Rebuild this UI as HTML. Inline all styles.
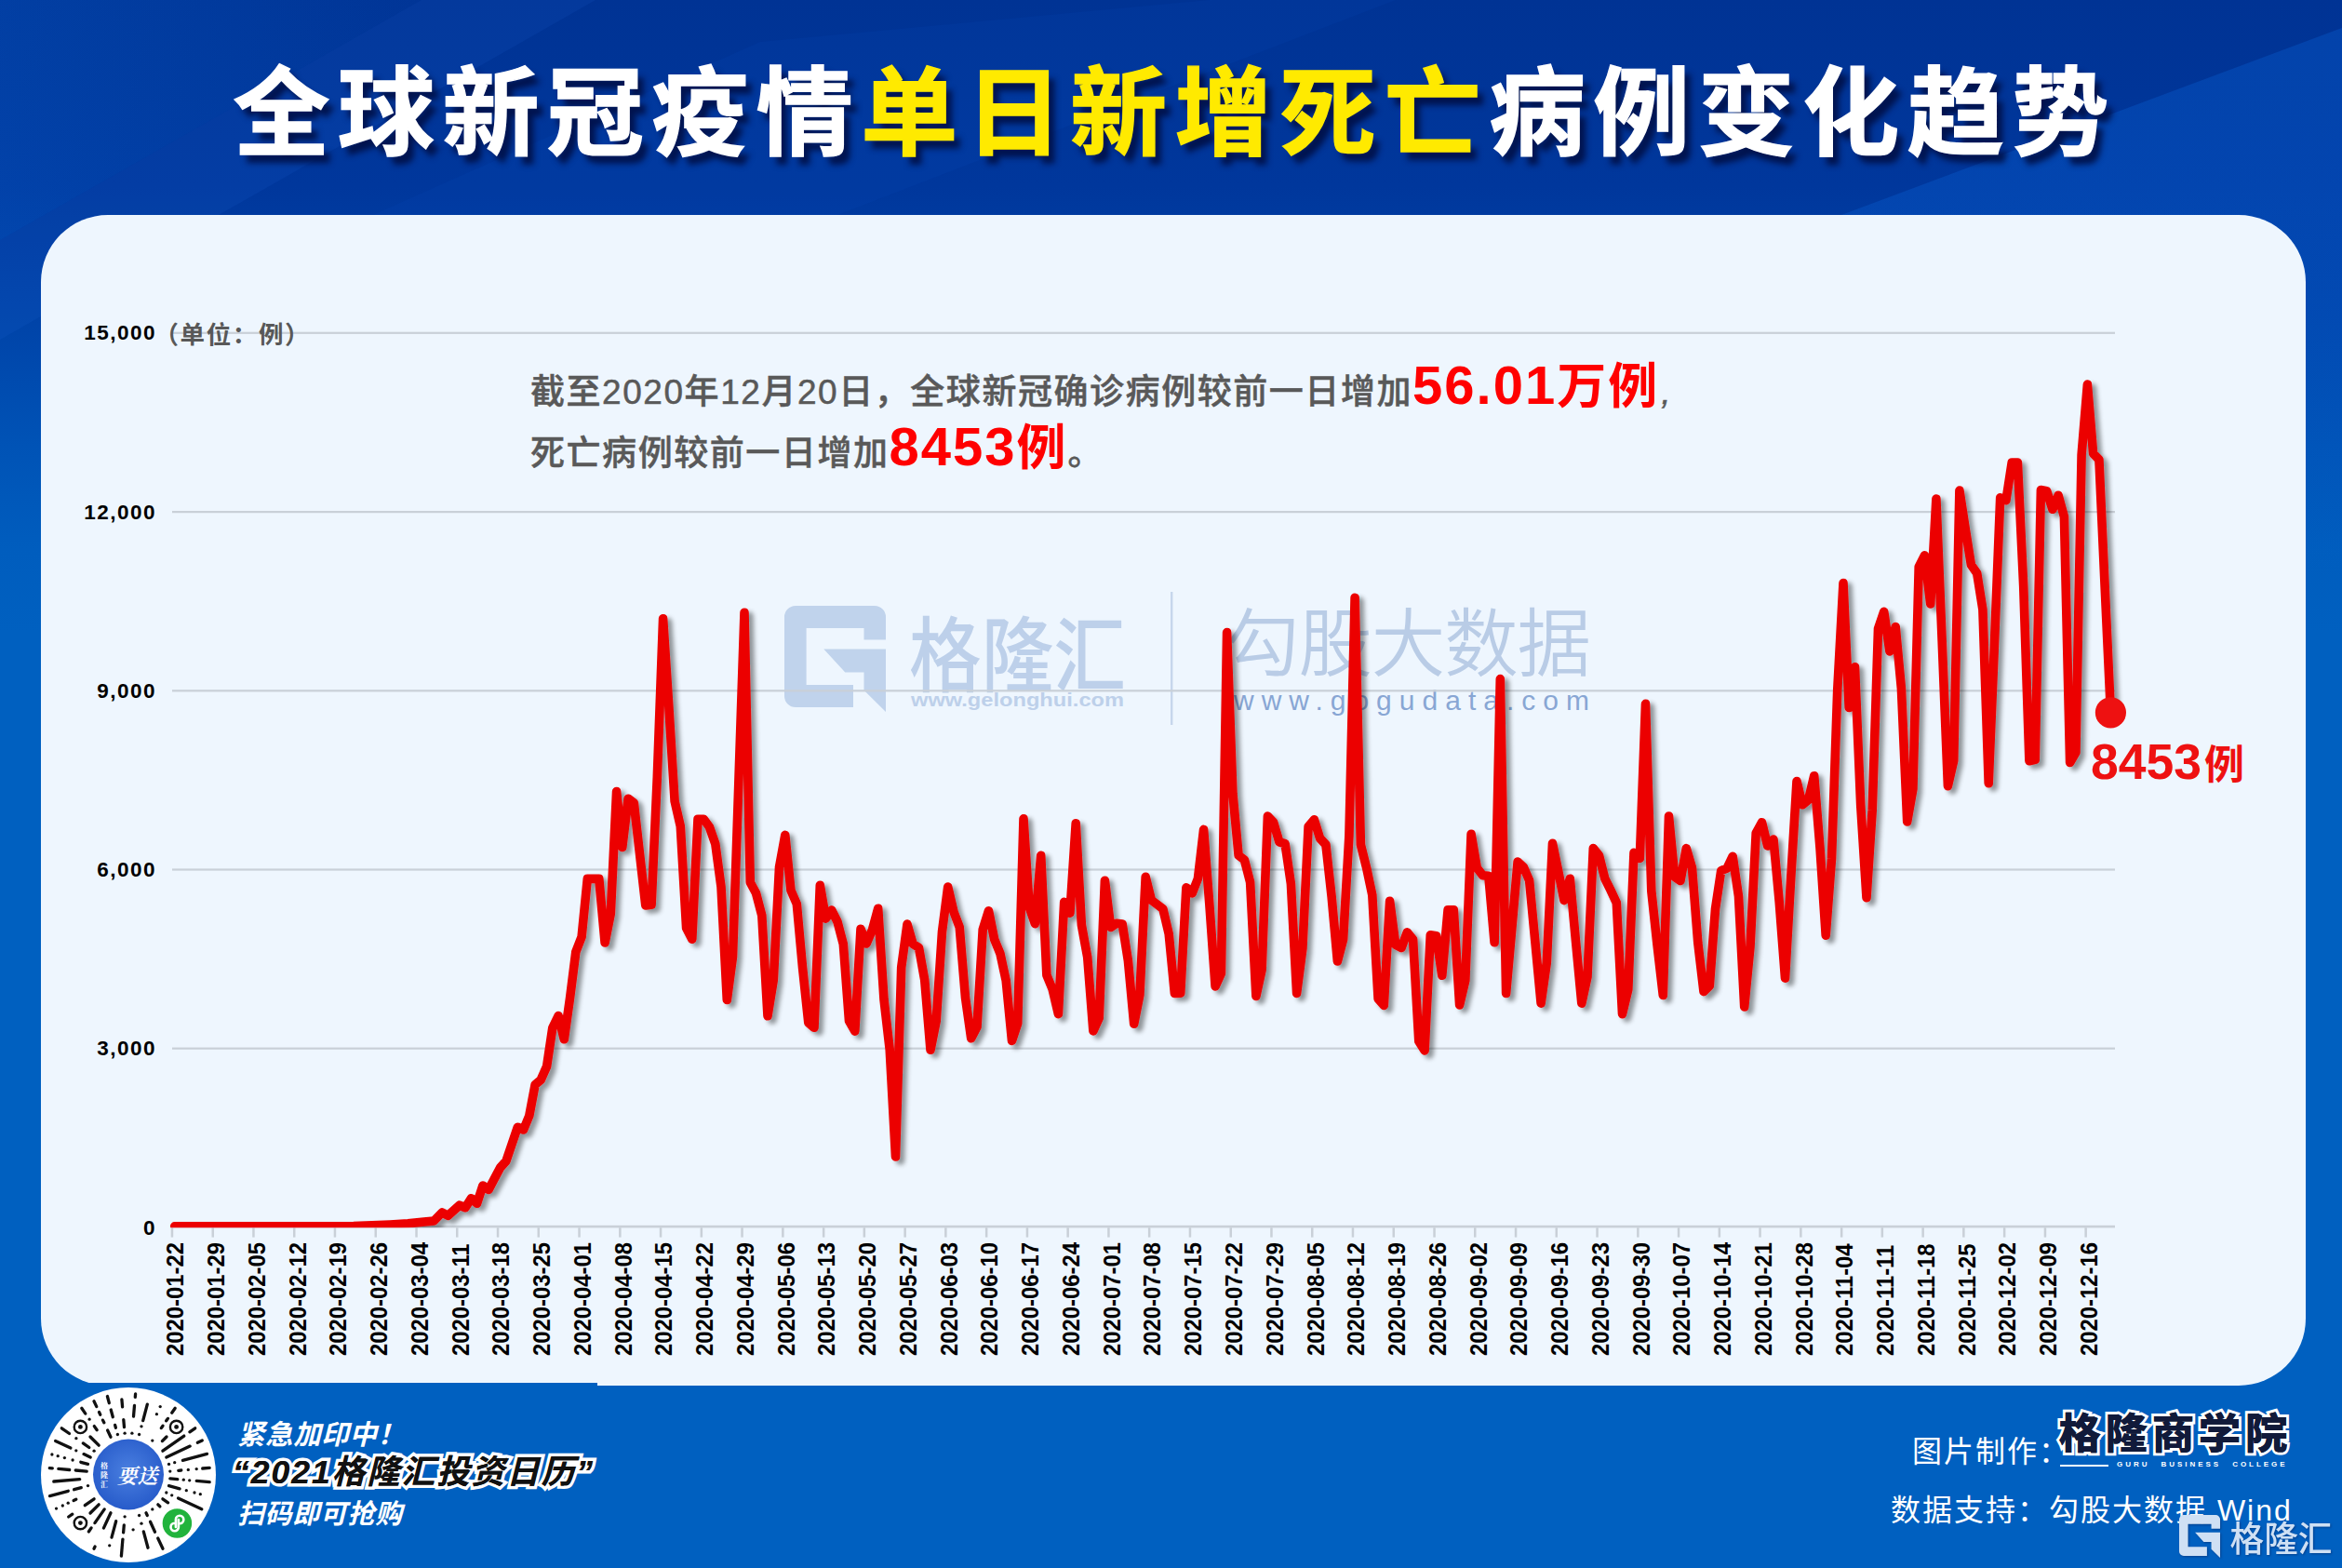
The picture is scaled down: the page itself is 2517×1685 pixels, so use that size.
<!DOCTYPE html>
<html lang="zh-CN"><head><meta charset="utf-8"><title>全球新冠疫情单日新增死亡病例变化趋势</title>
<style>
html,body{margin:0;padding:0}
body{width:2517px;height:1685px;overflow:hidden;position:relative;
 background:linear-gradient(180deg,#003394 0px,#00379c 200px,#0043a8 340px,#0053b6 480px,#005dbe 590px,#0060c0 680px,#0060c0 100%);
 font-family:"Liberation Sans","Noto Sans CJK SC",sans-serif}
.abs{position:absolute;left:0;top:0}
.title{position:absolute;left:0;top:53px;padding-left:250.5px;text-align:left;white-space:nowrap;
 font-family:"Liberation Sans","Noto Sans CJK SC",sans-serif;font-weight:700;font-size:104px;line-height:140px;letter-spacing:8.45px;color:#fff;
 -webkit-text-stroke:1.4px #fff;text-shadow:7px 9px 6px rgba(0,16,72,.92)}
.title b{color:#ffea00;font-weight:700;-webkit-text-stroke:1.4px #ffea00}
.card{position:absolute;left:44px;top:231px;width:2434px;height:1257.5px;border-radius:72px;background:#eef6fe}
.dl{font-family:"Liberation Sans",sans-serif;font-weight:700;font-size:26.5px;fill:#000}
.yl{font-family:"Liberation Sans",sans-serif;font-weight:700;font-size:22.5px;fill:#000;letter-spacing:1.45px}
.unit{position:absolute;left:165.5px;top:342px;font-family:"Liberation Sans","Noto Sans CJK SC",sans-serif;font-weight:700;font-size:26.5px;line-height:36px;letter-spacing:1.6px;color:#585858;white-space:nowrap}
.note{position:absolute;left:570px;top:382px;white-space:nowrap;color:#595959;font-family:"Liberation Sans","Noto Sans CJK SC",sans-serif;font-weight:500;font-size:37px;line-height:66.5px;letter-spacing:2px}
.nt{font-family:"Liberation Sans","Noto Sans CJK SC",sans-serif;font-weight:500;font-size:37px;letter-spacing:1.55px;fill:#595959;stroke:#595959;stroke-width:.5px}
.rd{stroke:none}
.rd{fill:#ff0000;font-weight:700;font-size:53px;letter-spacing:2px}
.dg{font-size:58px}
.endlab{position:absolute;left:2247px;top:784px;color:#ee1111;font-family:"Liberation Sans","Noto Sans CJK SC",sans-serif;font-weight:700;font-size:53.5px;line-height:70px;white-space:nowrap}
.endlab span{font-size:43px;margin-left:3px}
.promo{position:absolute;font-style:italic;font-weight:700;white-space:nowrap;}
.p1{left:255px;top:1521.5px;font-size:29.5px;line-height:40px;color:#fff;letter-spacing:.6px}
.p2{left:250px;top:1558px;font-size:35.5px;line-height:48px;color:#111;letter-spacing:2px;-webkit-text-stroke:7px #fff;paint-order:stroke fill}
.p2b{-webkit-text-stroke:0}
.p3{left:255px;top:1607px;font-size:29px;line-height:40px;color:#fff;letter-spacing:.6px}
.cr{position:absolute;color:#fff;white-space:nowrap;font-size:32px;line-height:44px;letter-spacing:2px;font-weight:400}
.gbc{position:absolute;left:2212.5px;top:1507px;font-weight:900;font-size:45.5px;line-height:70px;letter-spacing:4.6px;color:#111a3a;white-space:nowrap;
 -webkit-text-stroke:6px #fff;paint-order:stroke fill}
.gbc2{-webkit-text-stroke:0;}
.gbce{position:absolute;left:2275px;top:1567.8px;font-size:8px;line-height:12px;letter-spacing:2.95px;font-weight:700;color:#fff;white-space:nowrap;word-spacing:7px}
</style></head><body>
<svg class="abs" width="2517" height="1685" viewBox="0 0 2517 1685">
<defs>
<linearGradient id="gl" x1="0" y1="0" x2="1" y2="0"><stop offset="0" stop-color="#0868d8" stop-opacity=".22"/><stop offset="1" stop-color="#0868d8" stop-opacity="0.04"/></linearGradient>
<linearGradient id="gr" x1="0" y1="0" x2="0" y2="1"><stop offset="0" stop-color="#0a66dc" stop-opacity=".30"/><stop offset=".3" stop-color="#0a66dc" stop-opacity=".30"/><stop offset="1" stop-color="#0a66dc" stop-opacity="0"/></linearGradient>
</defs>
<polygon points="0,0 453,0 0,258" fill="url(#gl)"/>
<polygon points="0,258 453,0 640,0 0,365" fill="#2a7ae8" opacity="0.10"/>
<polygon points="401,231 817,45 1300,0 1500,0 900,231" fill="#0a5ad0" opacity="0.09"/>
<polygon points="1979,231 2517,30 2517,620 2300,620 2300,231" fill="url(#gr)"/>
</svg>
<div class="title">全球新冠疫情<b>单日新增死亡</b>病例变化趋势</div>
<div class="card"></div>
<svg class="abs" width="2517" height="1685" viewBox="0 0 2517 1685">
<path transform="translate(843,651) scale(1.0)" d="M12,0 H97 a12,12 0 0 1 12,12 V36.5 H85.5 V24 H23.6 V85 H74 V109 H12 a12,12 0 0 1 -12,-12 V12 a12,12 0 0 1 12,-12 Z M42.3,46.5 H109 V114 L85.5,90.7 V71.5 H65.3 Z" fill="#c0d3ec" />
<text x="977" y="735.5" font-family="'Liberation Sans','Noto Sans CJK SC',sans-serif" font-weight="500" font-size="88" fill="#bdd0ea" textLength="233" lengthAdjust="spacingAndGlyphs">格隆汇</text>
<text x="979" y="758.5" font-family="'Liberation Sans',sans-serif" font-weight="700" font-size="19.5" fill="#bdd0ea" textLength="229" lengthAdjust="spacingAndGlyphs">www.gelonghui.com</text>
<rect x="1258" y="636" width="2.4" height="143" fill="#c6d6ec"/>
<text x="1317" y="719.5" font-family="'Liberation Sans','Noto Sans CJK SC',sans-serif" font-weight="350" font-size="79.5" fill="#b9cce6" textLength="393" lengthAdjust="spacing">勾股大数据</text>
<text x="1326" y="763" font-family="'Liberation Sans',sans-serif" font-weight="400" font-size="30" fill="#88a6d4" textLength="382" lengthAdjust="spacing">www.gogudata.com</text>
</svg>
<svg class="abs" width="2517" height="1685" viewBox="0 0 2517 1685">
<defs><clipPath id="cp"><rect x="150" y="300" width="2200" height="1019.3"/></clipPath><filter id="ls" x="-5%" y="-5%" width="110%" height="110%"><feGaussianBlur in="SourceAlpha" stdDeviation="2.6"/><feOffset dx="5" dy="4"/><feComponentTransfer><feFuncA type="linear" slope="0.4"/></feComponentTransfer><feMerge><feMergeNode/><feMergeNode in="SourceGraphic"/></feMerge></filter></defs>
<rect x="185" y="356.7" width="2088" height="2.2" fill="#c9d0d8"/>
<rect x="185" y="549.0" width="2088" height="2.2" fill="#c9d0d8"/>
<rect x="185" y="741.2" width="2088" height="2.2" fill="#c9d0d8"/>
<rect x="185" y="933.4" width="2088" height="2.2" fill="#c9d0d8"/>
<rect x="185" y="1125.6" width="2088" height="2.2" fill="#c9d0d8"/>
<rect x="185" y="1316.8" width="2088" height="2.6" fill="#c9d0d8"/>
<rect x="183.7" y="1319.2" width="2.5" height="10.4" fill="#c9d0d8"/>
<text class="dl" transform="translate(197.2,1457) rotate(-90) scale(0.9,1)">2020-01-22</text>
<rect x="227.5" y="1319.2" width="2.5" height="10.4" fill="#c9d0d8"/>
<text class="dl" transform="translate(241.0,1457) rotate(-90) scale(0.9,1)">2020-01-29</text>
<rect x="271.2" y="1319.2" width="2.5" height="10.4" fill="#c9d0d8"/>
<text class="dl" transform="translate(284.7,1457) rotate(-90) scale(0.9,1)">2020-02-05</text>
<rect x="315.0" y="1319.2" width="2.5" height="10.4" fill="#c9d0d8"/>
<text class="dl" transform="translate(328.5,1457) rotate(-90) scale(0.9,1)">2020-02-12</text>
<rect x="358.7" y="1319.2" width="2.5" height="10.4" fill="#c9d0d8"/>
<text class="dl" transform="translate(372.2,1457) rotate(-90) scale(0.9,1)">2020-02-19</text>
<rect x="402.5" y="1319.2" width="2.5" height="10.4" fill="#c9d0d8"/>
<text class="dl" transform="translate(416.0,1457) rotate(-90) scale(0.9,1)">2020-02-26</text>
<rect x="446.3" y="1319.2" width="2.5" height="10.4" fill="#c9d0d8"/>
<text class="dl" transform="translate(459.8,1457) rotate(-90) scale(0.9,1)">2020-03-04</text>
<rect x="490.0" y="1319.2" width="2.5" height="10.4" fill="#c9d0d8"/>
<text class="dl" transform="translate(503.5,1457) rotate(-90) scale(0.9,1)">2020-03-11</text>
<rect x="533.8" y="1319.2" width="2.5" height="10.4" fill="#c9d0d8"/>
<text class="dl" transform="translate(547.3,1457) rotate(-90) scale(0.9,1)">2020-03-18</text>
<rect x="577.5" y="1319.2" width="2.5" height="10.4" fill="#c9d0d8"/>
<text class="dl" transform="translate(591.0,1457) rotate(-90) scale(0.9,1)">2020-03-25</text>
<rect x="621.3" y="1319.2" width="2.5" height="10.4" fill="#c9d0d8"/>
<text class="dl" transform="translate(634.8,1457) rotate(-90) scale(0.9,1)">2020-04-01</text>
<rect x="665.1" y="1319.2" width="2.5" height="10.4" fill="#c9d0d8"/>
<text class="dl" transform="translate(678.6,1457) rotate(-90) scale(0.9,1)">2020-04-08</text>
<rect x="708.8" y="1319.2" width="2.5" height="10.4" fill="#c9d0d8"/>
<text class="dl" transform="translate(722.3,1457) rotate(-90) scale(0.9,1)">2020-04-15</text>
<rect x="752.6" y="1319.2" width="2.5" height="10.4" fill="#c9d0d8"/>
<text class="dl" transform="translate(766.1,1457) rotate(-90) scale(0.9,1)">2020-04-22</text>
<rect x="796.3" y="1319.2" width="2.5" height="10.4" fill="#c9d0d8"/>
<text class="dl" transform="translate(809.8,1457) rotate(-90) scale(0.9,1)">2020-04-29</text>
<rect x="840.1" y="1319.2" width="2.5" height="10.4" fill="#c9d0d8"/>
<text class="dl" transform="translate(853.6,1457) rotate(-90) scale(0.9,1)">2020-05-06</text>
<rect x="883.9" y="1319.2" width="2.5" height="10.4" fill="#c9d0d8"/>
<text class="dl" transform="translate(897.4,1457) rotate(-90) scale(0.9,1)">2020-05-13</text>
<rect x="927.6" y="1319.2" width="2.5" height="10.4" fill="#c9d0d8"/>
<text class="dl" transform="translate(941.1,1457) rotate(-90) scale(0.9,1)">2020-05-20</text>
<rect x="971.4" y="1319.2" width="2.5" height="10.4" fill="#c9d0d8"/>
<text class="dl" transform="translate(984.9,1457) rotate(-90) scale(0.9,1)">2020-05-27</text>
<rect x="1015.1" y="1319.2" width="2.5" height="10.4" fill="#c9d0d8"/>
<text class="dl" transform="translate(1028.6,1457) rotate(-90) scale(0.9,1)">2020-06-03</text>
<rect x="1058.9" y="1319.2" width="2.5" height="10.4" fill="#c9d0d8"/>
<text class="dl" transform="translate(1072.4,1457) rotate(-90) scale(0.9,1)">2020-06-10</text>
<rect x="1102.7" y="1319.2" width="2.5" height="10.4" fill="#c9d0d8"/>
<text class="dl" transform="translate(1116.2,1457) rotate(-90) scale(0.9,1)">2020-06-17</text>
<rect x="1146.4" y="1319.2" width="2.5" height="10.4" fill="#c9d0d8"/>
<text class="dl" transform="translate(1159.9,1457) rotate(-90) scale(0.9,1)">2020-06-24</text>
<rect x="1190.2" y="1319.2" width="2.5" height="10.4" fill="#c9d0d8"/>
<text class="dl" transform="translate(1203.7,1457) rotate(-90) scale(0.9,1)">2020-07-01</text>
<rect x="1233.9" y="1319.2" width="2.5" height="10.4" fill="#c9d0d8"/>
<text class="dl" transform="translate(1247.4,1457) rotate(-90) scale(0.9,1)">2020-07-08</text>
<rect x="1277.7" y="1319.2" width="2.5" height="10.4" fill="#c9d0d8"/>
<text class="dl" transform="translate(1291.2,1457) rotate(-90) scale(0.9,1)">2020-07-15</text>
<rect x="1321.5" y="1319.2" width="2.5" height="10.4" fill="#c9d0d8"/>
<text class="dl" transform="translate(1335.0,1457) rotate(-90) scale(0.9,1)">2020-07-22</text>
<rect x="1365.2" y="1319.2" width="2.5" height="10.4" fill="#c9d0d8"/>
<text class="dl" transform="translate(1378.7,1457) rotate(-90) scale(0.9,1)">2020-07-29</text>
<rect x="1409.0" y="1319.2" width="2.5" height="10.4" fill="#c9d0d8"/>
<text class="dl" transform="translate(1422.5,1457) rotate(-90) scale(0.9,1)">2020-08-05</text>
<rect x="1452.7" y="1319.2" width="2.5" height="10.4" fill="#c9d0d8"/>
<text class="dl" transform="translate(1466.2,1457) rotate(-90) scale(0.9,1)">2020-08-12</text>
<rect x="1496.5" y="1319.2" width="2.5" height="10.4" fill="#c9d0d8"/>
<text class="dl" transform="translate(1510.0,1457) rotate(-90) scale(0.9,1)">2020-08-19</text>
<rect x="1540.3" y="1319.2" width="2.5" height="10.4" fill="#c9d0d8"/>
<text class="dl" transform="translate(1553.8,1457) rotate(-90) scale(0.9,1)">2020-08-26</text>
<rect x="1584.0" y="1319.2" width="2.5" height="10.4" fill="#c9d0d8"/>
<text class="dl" transform="translate(1597.5,1457) rotate(-90) scale(0.9,1)">2020-09-02</text>
<rect x="1627.8" y="1319.2" width="2.5" height="10.4" fill="#c9d0d8"/>
<text class="dl" transform="translate(1641.3,1457) rotate(-90) scale(0.9,1)">2020-09-09</text>
<rect x="1671.5" y="1319.2" width="2.5" height="10.4" fill="#c9d0d8"/>
<text class="dl" transform="translate(1685.0,1457) rotate(-90) scale(0.9,1)">2020-09-16</text>
<rect x="1715.3" y="1319.2" width="2.5" height="10.4" fill="#c9d0d8"/>
<text class="dl" transform="translate(1728.8,1457) rotate(-90) scale(0.9,1)">2020-09-23</text>
<rect x="1759.1" y="1319.2" width="2.5" height="10.4" fill="#c9d0d8"/>
<text class="dl" transform="translate(1772.6,1457) rotate(-90) scale(0.9,1)">2020-09-30</text>
<rect x="1802.8" y="1319.2" width="2.5" height="10.4" fill="#c9d0d8"/>
<text class="dl" transform="translate(1816.3,1457) rotate(-90) scale(0.9,1)">2020-10-07</text>
<rect x="1846.6" y="1319.2" width="2.5" height="10.4" fill="#c9d0d8"/>
<text class="dl" transform="translate(1860.1,1457) rotate(-90) scale(0.9,1)">2020-10-14</text>
<rect x="1890.3" y="1319.2" width="2.5" height="10.4" fill="#c9d0d8"/>
<text class="dl" transform="translate(1903.8,1457) rotate(-90) scale(0.9,1)">2020-10-21</text>
<rect x="1934.1" y="1319.2" width="2.5" height="10.4" fill="#c9d0d8"/>
<text class="dl" transform="translate(1947.6,1457) rotate(-90) scale(0.9,1)">2020-10-28</text>
<rect x="1977.9" y="1319.2" width="2.5" height="10.4" fill="#c9d0d8"/>
<text class="dl" transform="translate(1991.4,1457) rotate(-90) scale(0.9,1)">2020-11-04</text>
<rect x="2021.6" y="1319.2" width="2.5" height="10.4" fill="#c9d0d8"/>
<text class="dl" transform="translate(2035.1,1457) rotate(-90) scale(0.9,1)">2020-11-11</text>
<rect x="2065.4" y="1319.2" width="2.5" height="10.4" fill="#c9d0d8"/>
<text class="dl" transform="translate(2078.9,1457) rotate(-90) scale(0.9,1)">2020-11-18</text>
<rect x="2109.1" y="1319.2" width="2.5" height="10.4" fill="#c9d0d8"/>
<text class="dl" transform="translate(2122.6,1457) rotate(-90) scale(0.9,1)">2020-11-25</text>
<rect x="2152.9" y="1319.2" width="2.5" height="10.4" fill="#c9d0d8"/>
<text class="dl" transform="translate(2166.4,1457) rotate(-90) scale(0.9,1)">2020-12-02</text>
<rect x="2196.7" y="1319.2" width="2.5" height="10.4" fill="#c9d0d8"/>
<text class="dl" transform="translate(2210.2,1457) rotate(-90) scale(0.9,1)">2020-12-09</text>
<rect x="2240.4" y="1319.2" width="2.5" height="10.4" fill="#c9d0d8"/>
<text class="dl" transform="translate(2253.9,1457) rotate(-90) scale(0.9,1)">2020-12-16</text>
<text class="yl" x="167.9" y="365.4" text-anchor="end">15,000</text>
<text class="yl" x="167.9" y="557.7" text-anchor="end">12,000</text>
<text class="yl" x="167.9" y="749.9" text-anchor="end">9,000</text>
<text class="yl" x="167.9" y="942.1" text-anchor="end">6,000</text>
<text class="yl" x="167.9" y="1134.3" text-anchor="end">3,000</text>
<text class="yl" x="167.9" y="1326.5" text-anchor="end">0</text>
<polyline filter="url(#ls)" points="187.7,1317.8 380.0,1317.6 400.0,1316.8 419.2,1316.0 438.4,1314.8 455.7,1313.0 466.3,1312.0 475.1,1303.0 481.4,1306.3 493.9,1295.2 500.1,1297.7 506.4,1287.7 512.6,1293.2 518.9,1274.0 525.1,1278.4 537.6,1254.8 543.9,1247.7 556.3,1211.2 562.6,1214.0 568.8,1199.0 575.1,1165.6 581.3,1160.3 587.6,1146.0 593.8,1104.5 600.1,1091.6 606.3,1116.8 612.6,1072.1 618.8,1023.1 625.1,1006.8 631.3,944.4 637.6,944.4 643.8,944.4 650.1,1013.0 656.3,981.8 662.6,850.5 668.8,910.4 675.1,858.2 681.3,862.9 687.6,918.4 693.8,973.0 700.1,972.2 706.3,835.0 712.6,664.7 718.8,758.6 725.1,861.0 731.3,887.9 737.6,997.2 743.8,1009.2 750.0,880.3 756.3,880.2 762.5,888.8 768.8,906.9 775.0,953.0 781.3,1074.5 787.5,1028.0 793.8,842.0 800.0,658.3 806.3,948.2 812.5,959.7 818.8,983.8 825.0,1091.8 831.3,1052.9 837.5,931.9 843.8,897.4 850.0,956.9 856.3,971.3 862.5,1039.5 868.8,1099.0 875.0,1104.3 881.3,951.2 887.5,987.1 893.8,978.1 900.0,990.5 906.3,1014.5 912.5,1097.1 918.8,1108.1 925.0,998.2 931.2,1014.0 937.5,999.1 943.7,976.2 950.0,1074.1 956.2,1127.9 962.5,1243.0 968.7,1039.5 975.0,993.1 981.2,1014.5 987.5,1018.3 993.7,1052.9 1000.0,1128.3 1006.2,1097.1 1012.5,1001.1 1018.7,953.1 1025.0,979.9 1031.2,996.2 1037.5,1072.1 1043.7,1115.8 1050.0,1103.6 1056.2,998.9 1062.5,978.8 1068.7,1009.5 1075.0,1024.9 1081.2,1053.7 1087.5,1118.5 1093.7,1099.8 1100.0,879.9 1106.2,974.9 1112.4,992.6 1118.7,919.3 1124.9,1047.9 1131.2,1063.3 1137.4,1089.6 1143.7,969.2 1149.9,981.1 1156.2,884.7 1162.4,994.1 1168.7,1028.7 1174.9,1107.9 1181.2,1094.0 1187.4,946.2 1193.7,996.5 1199.9,992.3 1206.2,993.1 1212.4,1032.5 1218.7,1100.2 1224.9,1069.0 1231.2,942.3 1237.4,967.2 1243.7,972.0 1249.9,976.8 1256.2,1003.7 1262.4,1067.5 1268.7,1067.1 1274.9,953.8 1281.2,959.9 1287.4,944.2 1293.6,891.4 1299.9,973.0 1306.1,1059.9 1312.4,1046.0 1318.6,679.6 1324.9,852.5 1331.1,919.2 1337.4,924.0 1343.6,948.0 1349.9,1070.4 1356.1,1042.1 1362.4,877.0 1368.6,883.6 1374.9,904.8 1381.1,906.7 1387.4,949.9 1393.6,1067.5 1399.9,1019.1 1406.1,888.4 1412.4,880.8 1418.6,900.9 1424.9,907.6 1431.1,963.4 1437.4,1033.0 1443.6,1009.5 1449.9,898.0 1456.1,642.2 1462.4,907.6 1468.6,932.6 1474.8,961.8 1481.1,1073.3 1487.3,1080.4 1493.6,968.2 1499.8,1015.2 1506.1,1018.5 1512.3,1001.9 1518.6,1009.5 1524.8,1119.0 1531.1,1129.0 1537.3,1004.7 1543.6,1005.7 1549.8,1048.3 1556.1,977.8 1562.3,977.8 1568.6,1080.0 1574.8,1053.7 1581.1,896.2 1587.3,932.6 1593.6,940.7 1599.8,941.3 1606.1,1012.8 1612.3,729.6 1618.6,1067.5 1624.8,998.0 1631.1,926.0 1637.3,931.7 1643.6,946.1 1649.8,1011.4 1656.1,1078.1 1662.3,1034.5 1668.5,906.2 1674.8,936.5 1681.0,967.6 1687.3,944.2 1693.5,1011.4 1699.8,1078.1 1706.0,1049.8 1712.3,911.6 1718.5,919.2 1724.8,944.2 1731.0,956.6 1737.3,970.1 1743.5,1089.6 1749.8,1063.3 1756.0,916.4 1762.3,922.5 1768.5,756.4 1774.8,957.6 1781.0,1015.2 1787.3,1069.5 1793.5,877.0 1799.8,942.2 1806.0,946.5 1812.3,911.6 1818.5,932.6 1824.8,1013.3 1831.0,1065.6 1837.3,1059.4 1843.5,976.8 1849.7,935.6 1856.0,933.0 1862.2,920.2 1868.5,963.4 1874.7,1082.0 1881.0,1017.2 1887.2,895.2 1893.5,883.7 1899.7,909.0 1906.0,902.0 1912.2,969.1 1918.5,1051.2 1924.7,944.1 1931.0,839.5 1937.2,864.8 1943.5,859.6 1949.7,833.7 1956.0,911.4 1962.2,1005.1 1968.5,923.0 1974.7,741.8 1981.0,626.5 1987.2,760.5 1993.5,716.8 1999.7,865.3 2006.0,964.7 2012.2,871.0 2018.5,675.5 2024.7,657.3 2030.9,699.9 2037.2,673.6 2043.4,739.8 2049.7,883.0 2055.9,848.0 2062.2,609.2 2068.4,596.8 2074.7,649.0 2080.9,536.1 2087.2,689.9 2093.4,844.6 2099.7,817.3 2105.9,527.1 2112.2,568.0 2118.4,607.0 2124.7,616.0 2130.9,655.0 2137.2,841.7 2143.4,693.7 2149.7,534.8 2155.9,537.7 2162.2,497.0 2168.4,497.0 2174.7,630.0 2180.9,817.7 2187.2,816.3 2193.4,526.5 2199.7,527.7 2205.9,547.3 2212.1,532.3 2218.4,555.2 2224.6,819.5 2230.9,808.6 2237.1,488.6 2243.4,413.1 2249.6,487.4 2255.9,493.8 2262.1,630.0 2268.4,765.8" fill="none" stroke="#ec0000" stroke-width="9.6" stroke-linejoin="round" stroke-linecap="round" clip-path="url(#cp)"/>
<circle cx="2268.4" cy="765.8" r="16.6" fill="#ee1111"/>
</svg>
<div class="unit">（单位：例）</div>
<svg class="abs" width="2517" height="1685" viewBox="0 0 2517 1685">
<text class="nt" x="570" y="434">截至2020年12月20日，全球新冠确诊病例较前一日增加<tspan class="rd"><tspan class="dg">56.01</tspan>万例</tspan><tspan dx="2" font-style="italic">,</tspan></text>
<text class="nt" x="570" y="499.8">死亡病例较前一日增加<tspan class="rd"><tspan class="dg">8453</tspan>例</tspan>。</text>
</svg>
<div class="endlab">8453<span>例</span></div>
<div class="abs" style="left:0;top:1485.8px;width:642px;height:6px;background:#0060c0"></div>
<svg class="abs" width="2517" height="1685" viewBox="0 0 2517 1685">
<circle cx="138" cy="1585" r="94" fill="#fff"/>
<g stroke="#111" stroke-width="3.3" stroke-linecap="round">
<line x1="182.8" y1="1588.9" x2="190.8" y2="1589.6"/>
<line x1="197.3" y1="1590.2" x2="197.3" y2="1590.2"/>
<line x1="203.7" y1="1590.8" x2="203.7" y2="1590.8"/>
<line x1="211.2" y1="1591.4" x2="225.2" y2="1592.6"/>
<line x1="181.5" y1="1596.6" x2="193.1" y2="1599.8"/>
<line x1="200.3" y1="1601.7" x2="200.3" y2="1601.7"/>
<line x1="209.0" y1="1604.0" x2="209.0" y2="1604.0"/>
<line x1="215.3" y1="1605.7" x2="215.3" y2="1605.7"/>
<line x1="178.8" y1="1604.0" x2="178.8" y2="1604.0"/>
<line x1="184.7" y1="1606.8" x2="184.7" y2="1606.8"/>
<line x1="191.5" y1="1609.9" x2="216.8" y2="1621.8"/>
<line x1="174.9" y1="1610.8" x2="180.6" y2="1614.8"/>
<line x1="169.8" y1="1616.8" x2="171.9" y2="1618.9"/>
<line x1="163.8" y1="1621.9" x2="163.8" y2="1621.9"/>
<line x1="157.0" y1="1625.8" x2="158.3" y2="1628.5"/>
<line x1="161.5" y1="1635.3" x2="166.5" y2="1646.2"/>
<line x1="169.7" y1="1653.0" x2="175.0" y2="1664.3"/>
<line x1="149.6" y1="1628.5" x2="149.6" y2="1628.5"/>
<line x1="152.0" y1="1637.2" x2="152.0" y2="1637.2"/>
<line x1="154.3" y1="1645.9" x2="159.0" y2="1663.2"/>
<line x1="143.1" y1="1643.8" x2="143.1" y2="1643.8"/>
<line x1="134.1" y1="1629.8" x2="134.1" y2="1629.8"/>
<line x1="133.3" y1="1638.8" x2="132.6" y2="1646.8"/>
<line x1="131.9" y1="1654.2" x2="130.4" y2="1672.2"/>
<line x1="124.7" y1="1634.7" x2="120.0" y2="1652.1"/>
<line x1="117.7" y1="1660.8" x2="117.7" y2="1660.8"/>
<line x1="119.0" y1="1625.8" x2="111.4" y2="1642.1"/>
<line x1="102.1" y1="1662.0" x2="101.0" y2="1664.3"/>
<line x1="112.2" y1="1621.9" x2="101.9" y2="1636.6"/>
<line x1="98.1" y1="1641.9" x2="95.3" y2="1646.0"/>
<line x1="106.2" y1="1616.8" x2="97.0" y2="1626.0"/>
<line x1="101.1" y1="1610.8" x2="91.3" y2="1617.7"/>
<line x1="77.8" y1="1627.2" x2="73.7" y2="1630.0"/>
<line x1="81.8" y1="1611.2" x2="79.1" y2="1612.5"/>
<line x1="73.2" y1="1615.2" x2="73.2" y2="1615.2"/>
<line x1="67.3" y1="1618.0" x2="67.3" y2="1618.0"/>
<line x1="60.5" y1="1621.1" x2="60.5" y2="1621.1"/>
<line x1="94.5" y1="1596.6" x2="94.5" y2="1596.6"/>
<line x1="87.3" y1="1598.6" x2="79.6" y2="1600.7"/>
<line x1="73.3" y1="1602.3" x2="53.5" y2="1607.6"/>
<line x1="85.7" y1="1589.6" x2="57.8" y2="1592.0"/>
<line x1="93.2" y1="1581.1" x2="81.2" y2="1580.0"/>
<line x1="74.7" y1="1579.5" x2="62.8" y2="1578.4"/>
<line x1="56.3" y1="1577.9" x2="53.3" y2="1577.6"/>
<line x1="94.5" y1="1573.4" x2="86.8" y2="1571.3"/>
<line x1="78.1" y1="1569.0" x2="78.1" y2="1569.0"/>
<line x1="69.4" y1="1566.6" x2="69.4" y2="1566.6"/>
<line x1="62.2" y1="1564.7" x2="62.2" y2="1564.7"/>
<line x1="55.9" y1="1563.0" x2="55.9" y2="1563.0"/>
<line x1="97.2" y1="1566.0" x2="90.0" y2="1562.6"/>
<line x1="81.8" y1="1558.8" x2="81.8" y2="1558.8"/>
<line x1="75.9" y1="1556.1" x2="59.6" y2="1548.4"/>
<line x1="101.1" y1="1559.2" x2="101.1" y2="1559.2"/>
<line x1="95.8" y1="1555.5" x2="89.3" y2="1550.9"/>
<line x1="81.9" y1="1545.7" x2="81.9" y2="1545.7"/>
<line x1="74.5" y1="1540.5" x2="66.3" y2="1534.8"/>
<line x1="106.2" y1="1553.2" x2="97.0" y2="1544.0"/>
<line x1="104.2" y1="1536.7" x2="101.3" y2="1532.6"/>
<line x1="96.1" y1="1525.2" x2="96.1" y2="1525.2"/>
<line x1="91.8" y1="1519.1" x2="87.8" y2="1513.3"/>
<line x1="119.0" y1="1544.2" x2="115.6" y2="1537.0"/>
<line x1="111.8" y1="1528.8" x2="110.5" y2="1526.1"/>
<line x1="107.8" y1="1520.2" x2="106.5" y2="1517.5"/>
<line x1="103.8" y1="1511.6" x2="101.0" y2="1505.7"/>
<line x1="126.4" y1="1541.5" x2="126.4" y2="1541.5"/>
<line x1="124.4" y1="1534.3" x2="123.6" y2="1531.4"/>
<line x1="121.3" y1="1522.7" x2="119.2" y2="1515.0"/>
<line x1="117.3" y1="1507.7" x2="115.4" y2="1500.5"/>
<line x1="134.1" y1="1540.2" x2="134.1" y2="1540.2"/>
<line x1="133.5" y1="1533.7" x2="132.8" y2="1525.7"/>
<line x1="131.6" y1="1511.8" x2="130.9" y2="1503.8"/>
<line x1="141.9" y1="1540.2" x2="141.9" y2="1540.2"/>
<line x1="143.5" y1="1522.2" x2="144.5" y2="1510.3"/>
<line x1="145.3" y1="1501.3" x2="145.6" y2="1497.8"/>
<line x1="149.6" y1="1541.5" x2="149.6" y2="1541.5"/>
<line x1="152.0" y1="1532.8" x2="152.0" y2="1532.8"/>
<line x1="153.7" y1="1526.6" x2="158.3" y2="1509.2"/>
<line x1="168.4" y1="1519.7" x2="168.4" y2="1519.7"/>
<line x1="172.2" y1="1511.6" x2="172.2" y2="1511.6"/>
<line x1="163.8" y1="1548.1" x2="163.8" y2="1548.1"/>
<line x1="173.3" y1="1534.6" x2="175.0" y2="1532.2"/>
<line x1="178.7" y1="1526.8" x2="180.4" y2="1524.4"/>
<line x1="184.7" y1="1518.2" x2="188.2" y2="1513.3"/>
<line x1="174.4" y1="1548.6" x2="179.0" y2="1544.0"/>
<line x1="174.9" y1="1559.2" x2="197.8" y2="1543.1"/>
<line x1="203.9" y1="1538.8" x2="209.7" y2="1534.8"/>
<line x1="178.8" y1="1566.0" x2="204.2" y2="1554.1"/>
<line x1="212.3" y1="1550.3" x2="217.3" y2="1548.0"/>
<line x1="181.5" y1="1573.4" x2="181.5" y2="1573.4"/>
<line x1="187.7" y1="1571.7" x2="187.7" y2="1571.7"/>
<line x1="196.4" y1="1569.3" x2="222.5" y2="1562.4"/>
<line x1="182.8" y1="1581.1" x2="182.8" y2="1581.1"/>
<line x1="191.8" y1="1580.3" x2="194.8" y2="1580.0"/>
<line x1="202.3" y1="1579.4" x2="202.3" y2="1579.4"/>
<line x1="211.2" y1="1578.6" x2="211.2" y2="1578.6"/>
<line x1="217.7" y1="1578.0" x2="225.2" y2="1577.4"/>
</g>
<circle cx="86.4" cy="1533.4" r="6.7" fill="none" stroke="#111" stroke-width="2.4"/><circle cx="86.4" cy="1533.4" r="2.4" fill="#111"/>
<circle cx="189.6" cy="1533.4" r="6.7" fill="none" stroke="#111" stroke-width="2.4"/><circle cx="189.6" cy="1533.4" r="2.4" fill="#111"/>
<circle cx="86.4" cy="1636.6" r="6.7" fill="none" stroke="#111" stroke-width="2.4"/><circle cx="86.4" cy="1636.6" r="2.4" fill="#111"/>
<defs><radialGradient id="qb" cx="50%" cy="45%" r="60%"><stop offset="0" stop-color="#4a7fe0"/><stop offset="1" stop-color="#2458c8"/></radialGradient></defs>
<circle cx="138" cy="1584.5" r="38" fill="url(#qb)"/>
<text x="147.5" y="1594" text-anchor="middle" font-family="'Liberation Serif','Noto Serif CJK SC',serif" font-style="italic" font-weight="700" font-size="22" fill="#fff">要送</text>
<text x="112" y="1578" text-anchor="middle" font-family="'Liberation Serif','Noto Serif CJK SC',serif" font-weight="700" font-size="8" fill="#fff">格</text>
<text x="112" y="1588" text-anchor="middle" font-family="'Liberation Serif','Noto Serif CJK SC',serif" font-weight="700" font-size="8" fill="#fff">隆</text>
<text x="112" y="1598" text-anchor="middle" font-family="'Liberation Serif','Noto Serif CJK SC',serif" font-weight="700" font-size="8" fill="#fff">汇</text>
<circle cx="190.4" cy="1637" r="16.5" fill="#21b33c" stroke="#fff" stroke-width="1.5"/>
<path d="M188.9,1641 v-8 a4.2,4.2 0 1 1 4.2,4.2 M191.9,1633 v8 a4.2,4.2 0 1 1 -4.2,-4.2" fill="none" stroke="#fff" stroke-width="2.6" stroke-linecap="round"/>
</svg>
<div class="promo p1">紧急加印中！</div>
<div class="promo p2">“2021格隆汇投资日历”</div>
<div class="promo p2 p2b">“2021格隆汇投资日历”</div>
<div class="promo p3">扫码即可抢购</div>
<div class="cr" style="left:2055px;top:1538px">图片制作：</div>
<div class="gbc">格隆商学院</div>
<div class="gbc gbc2">格隆商学院</div>
<div class="abs" style="left:2214px;top:1574px;width:52px;height:1.5px;background:#fff"></div>
<div class="gbce">GURU BUSINESS COLLEGE</div>
<div class="cr" style="left:2032px;top:1601px">数据支持：勾股大数据 Wind</div>
<svg class="abs" width="2517" height="1685" viewBox="0 0 2517 1685" style="filter:drop-shadow(1.5px 1.5px 1px rgba(0,36,100,.55))">
<path transform="translate(2342,1628) scale(0.404)" d="M12,0 H97 a12,12 0 0 1 12,12 V36.5 H85.5 V24 H23.6 V85 H74 V109 H12 a12,12 0 0 1 -12,-12 V12 a12,12 0 0 1 12,-12 Z M42.3,46.5 H109 V114 L85.5,90.7 V71.5 H65.3 Z" fill="#cfe0f4" />
<text x="2396.5" y="1666.5" font-family="'Liberation Sans','Noto Sans CJK SC',sans-serif" font-weight="500" font-size="38" fill="#cfe0f4" textLength="110" lengthAdjust="spacingAndGlyphs">格隆汇</text>
</svg>
</body></html>
